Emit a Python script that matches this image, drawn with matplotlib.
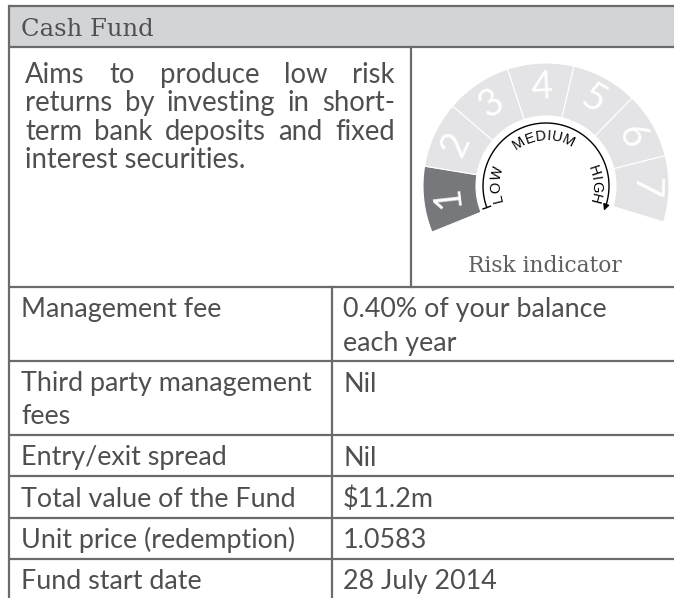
import numpy as np
import matplotlib
matplotlib.use('Agg')
import matplotlib.pyplot as plt
from matplotlib.patches import Polygon, Rectangle
from matplotlib.font_manager import FontProperties

# --- data -------------------------------------------------------------
title = 'Cash Fund'
desc_lines = ['Aims to produce low risk',
              'returns by investing in short-',
              'term bank deposits and fixed',
              'interest securities.']
risk_levels = [1, 2, 3, 4, 5, 6, 7]
fund_risk = 1
risk_label = 'Risk indicator'
scale_words = ['LOW', 'MEDIUM', 'HIGH']
row_labels = ['Management fee',
              'Third party management\nfees',
              'Entry/exit spread',
              'Total value of the Fund',
              'Unit price (redemption)',
              'Fund start date']
row_values = ['0.40% of your balance\neach year',
              'Nil',
              'Nil',
              '$11.2m',
              '1.0583',
              '28 July 2014']

# --- style ------------------------------------------------------------
W, H = 674, 598
txt = '#4f4f52'
edge = '#6b6b6e'
head_bg = '#d3d4d6'
seg_light = '#e4e4e6'
seg_dark = '#77787b'

fig = plt.figure(figsize=(W / 100, H / 100), dpi=100)
ax = fig.add_axes([0, 0, 1, 1])
ax.set_xlim(0, W)
ax.set_ylim(H, 0)
ax.axis('off')
rend = fig.canvas.get_renderer()


def tw(s, fp):
    w, h, d = rend.get_text_width_height_descent(s, fp, ismath=False)
    return w


def fitted(family, s, width, weight='normal'):
    fp = FontProperties(family=family, size=20, weight=weight)
    fp.set_size(20 * width / tw(s, fp))
    return fp


sans = 'Lato'
serif = 'DejaVu Serif'
fp_desc = fitted(sans, 'interest securities.', 222)
fp_tab = fitted(sans, 'Total value of the Fund', 275)
fp_head = fitted(serif, title, 132)
fp_risk = fitted(serif, risk_label, 154)

# --- frame ------------------------------------------------------------
x_left, x_mid, x_split = 9, 332, 411
y_top, y_head, y_desc = 6, 47, 287
lw = 1.6

ax.add_patch(Rectangle((x_left, y_top), W - x_left, y_head - y_top,
                       fc=head_bg, ec='none'))
ax.text(21, 36, title, fontproperties=fp_head, color=txt, va='baseline')

# row boundaries from line counts
nlines = [max(a.count('\n'), b.count('\n')) + 1 for a, b in zip(row_labels, row_values)]
ys = [y_desc]
for n in nlines:
    ys.append(ys[-1] + 8.5 + 32.75 * n)

for y in [y_top, y_head] + ys[:-1]:
    ax.plot([x_left, W], [y, y], color=edge, lw=lw, solid_capstyle='butt')
ax.plot([x_left, x_left], [y_top, H], color=edge, lw=lw)
ax.plot([x_split, x_split], [y_head, y_desc], color=edge, lw=lw)
ax.plot([x_mid, x_mid], [y_desc, H], color=edge, lw=lw)

# --- description (justified) -----------------------------------------
x0, x1 = 25, 395
for i, line in enumerate(desc_lines):
    yb = 83 + 28.4 * i
    words = line.split()
    if i == len(desc_lines) - 1:
        ax.text(x0, yb, line, fontproperties=fp_desc, color=txt, va='baseline')
        continue
    widths = [tw(w, fp_desc) for w in words]
    gap = (x1 - x0 - sum(widths)) / (len(words) - 1)
    x = x0
    for w, wd in zip(words, widths):
        ax.text(x, yb, w, fontproperties=fp_desc, color=txt, va='baseline')
        x += wd + gap

# --- table ------------------------------------------------------------
for i, (lab, val) in enumerate(zip(row_labels, row_values)):
    for j, ln in enumerate(lab.split('\n')):
        ax.text(21, ys[i] + 30.5 + 33 * j, ln, fontproperties=fp_tab,
                color=txt, va='baseline')
    for j, ln in enumerate(val.split('\n')):
        ax.text(343, ys[i] + 30.5 + 33 * j, ln, fontproperties=fp_tab,
                color=txt, va='baseline')

# --- risk gauge -------------------------------------------------------
cx, cy = 546, 186
r_in, r_out = 70, 123
edges = np.linspace(202, -17, len(risk_levels) + 1)
fp_num = FontProperties(family='Lato', weight='normal', size=27)
for i, lvl in enumerate(risk_levels):
    t = np.radians(np.linspace(edges[i], edges[i + 1], 50))
    px = np.concatenate([cx + r_out * np.cos(t), cx + r_in * np.cos(t[::-1])])
    py = np.concatenate([cy - r_out * np.sin(t), cy - r_in * np.sin(t[::-1])])
    ax.add_patch(Polygon(np.column_stack([px, py]), closed=True,
                         fc=seg_dark if lvl == fund_risk else seg_light,
                         ec='white', lw=0.8))
    mid = (edges[i] + edges[i + 1]) / 2
    m = np.radians(mid)
    ax.text(cx + 99 * np.cos(m), cy - 99 * np.sin(m), str(lvl),
            fontproperties=fp_num, color='white', rotation=mid - 90,
            rotation_mode='anchor', ha='center', va='center')

# arc with arrow
r_arc = 63
t = np.radians(np.linspace(200, -18, 200))
ax.plot(cx + r_arc * np.cos(t), cy - r_arc * np.sin(t), color='black', lw=1.0)
ts = np.radians(200)
ax.plot([cx + (r_arc - 4) * np.cos(ts), cx + (r_arc + 4) * np.cos(ts)],
        [cy - (r_arc - 4) * np.sin(ts), cy - (r_arc + 4) * np.sin(ts)],
        color='black', lw=1.0)
te1, te2 = np.radians(-17), np.radians(-23)
ax.annotate('', xy=(cx + r_arc * np.cos(te2), cy - r_arc * np.sin(te2)),
            xytext=(cx + r_arc * np.cos(te1), cy - r_arc * np.sin(te1)),
            arrowprops=dict(arrowstyle='-|>', color='black', lw=1.0,
                            mutation_scale=9, shrinkA=0, shrinkB=0))

# curved labels
fp_lab = FontProperties(family='Liberation Sans', size=10.5)
r_base = 46
for word, centre in zip(scale_words, [178, 93, 2]):
    cw = [tw(c, fp_lab) for c in word]
    a = np.radians(centre) + sum(cw) / 2 / r_base
    for c, w in zip(word, cw):
        ang = a - (w / 2) / r_base
        ax.text(cx + r_base * np.cos(ang), cy - r_base * np.sin(ang), c,
                fontproperties=fp_lab, color='black',
                rotation=np.degrees(ang) - 90, rotation_mode='anchor',
                ha='center', va='baseline')
        a -= w / r_base

ax.text(545, 272, risk_label, fontproperties=fp_risk, color='#5f5f62',
        ha='center', va='baseline')

fig.savefig('out.png', dpi=100)
